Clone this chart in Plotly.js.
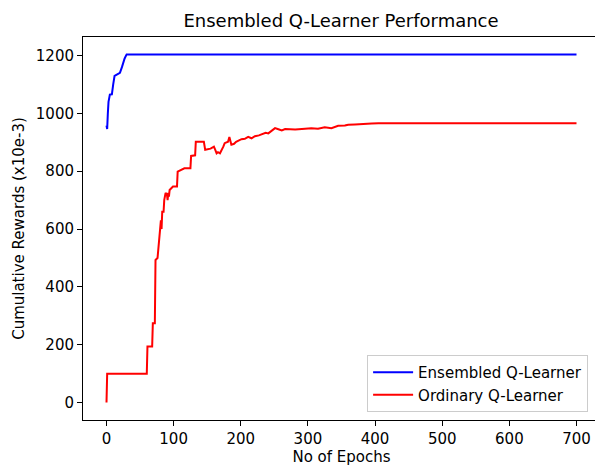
<!DOCTYPE html>
<html>
<head>
<meta charset="utf-8">
<script src="https://cdn.plot.ly/plotly-3.0.1.min.js"></script>
<style>
html, body { margin: 0; padding: 0; overflow: hidden; background: #fff; }
#chart { width: 600px; height: 468px; }
</style>
</head>
<body>
<div id="chart"></div>
<script>
// Ensembled Q-Learner (blue)
const ensembledEpochs = [0, 1, 2, 3, 5, 8, 10, 12, 16, 20, 23, 25, 27, 30, 700];
const ensembledRewards = [958, 946, 1000, 1040, 1065, 1066, 1100, 1130, 1135, 1140, 1160, 1180, 1190, 1204, 1204];

// Ordinary Q-Learner (red)
const ordinaryEpochs = [0, 1, 60, 61, 68, 69, 72, 73, 76, 78, 80, 81, 82, 83, 85, 86, 88, 90, 91, 92, 93, 94, 99, 105, 106, 116, 125, 126, 132, 133, 145, 147, 155, 160, 162, 164, 166, 169, 174, 176, 181, 183, 186, 190, 193, 196, 201, 206, 211, 216, 221, 227, 234, 237, 241, 246, 251, 256, 261, 266, 271, 281, 291, 305, 315, 325, 335, 345, 355, 360, 370, 380, 395, 405, 450, 500, 600, 700];
const ordinaryRewards = [0, 100, 100, 194, 194, 274, 274, 493, 500, 552, 609, 630, 600, 660, 660, 700, 725, 720, 700, 725, 712, 735, 747, 747, 799, 810, 810, 853, 855, 902, 902, 874, 878, 885, 874, 862, 866, 862, 885, 897, 902, 918, 892, 895, 902, 906, 911, 912, 919, 914, 921, 924, 929, 933, 931, 940, 949, 945, 941, 946, 945, 944, 946, 949, 947, 952, 949, 957, 958, 961, 962, 964, 965, 966, 966, 966, 966, 966];

const seriesNames = ["Ensembled Q-Learner", "Ordinary Q-Learner"];
const xTicks = [0, 100, 200, 300, 400, 500, 600, 700];
const yTicks = [0, 200, 400, 600, 800, 1000, 1200];

const font = "DejaVu Sans, sans-serif";

const traces = [
  { x: ensembledEpochs, y: ensembledRewards, name: seriesNames[0], type: "scatter", mode: "lines",
    line: { color: "blue", width: 2 } },
  { x: ordinaryEpochs, y: ordinaryRewards, name: seriesNames[1], type: "scatter", mode: "lines",
    line: { color: "red", width: 2 } }
];

const axisCommon = {
  showgrid: false, zeroline: false, showline: true, mirror: true,
  linecolor: "#000", linewidth: 1, ticks: "outside", ticklen: 5, tickwidth: 1,
  tickcolor: "#000", tickfont: { family: font, size: 15, color: "#000" }
};

const layout = {
  width: 600, height: 468,
  margin: { l: 83, r: 0, t: 37, b: 48 },
  paper_bgcolor: "#fff", plot_bgcolor: "#fff",
  font: { family: font, size: 15, color: "#000" },
  title: { text: "Ensembled Q-Learner Performance", font: { family: font, size: 18, color: "#000" },
    x: 341 / 600, xanchor: "center", xref: "container", y: 1 - 21 / 468, yref: "container", yanchor: "middle" },
  xaxis: Object.assign({}, axisCommon, {
    range: [-35, 735], tickvals: xTicks, ticktext: xTicks.map(String),
    title: { text: "No of Epochs", font: { family: font, size: 15, color: "#000" }, standoff: 3 }
  }),
  yaxis: Object.assign({}, axisCommon, {
    range: [-60.2, 1264.2], tickvals: yTicks, ticktext: yTicks.map(String),
    title: { text: "Cumulative Rewards (x10e-3)", font: { family: font, size: 15, color: "#000" }, standoff: 7 }
  }),
  showlegend: true,
  legend: {
    x: 0.977, xanchor: "right", y: 0.021, yanchor: "bottom",
    bgcolor: "rgba(255,255,255,0.8)", bordercolor: "#cccccc", borderwidth: 1,
    font: { family: font, size: 15, color: "#000" }, tracegroupgap: 0, itemwidth: 40
  },
  hovermode: false
};

Plotly.newPlot("chart", traces, layout, { displayModeBar: false, staticPlot: true });
</script>
</body>
</html>
